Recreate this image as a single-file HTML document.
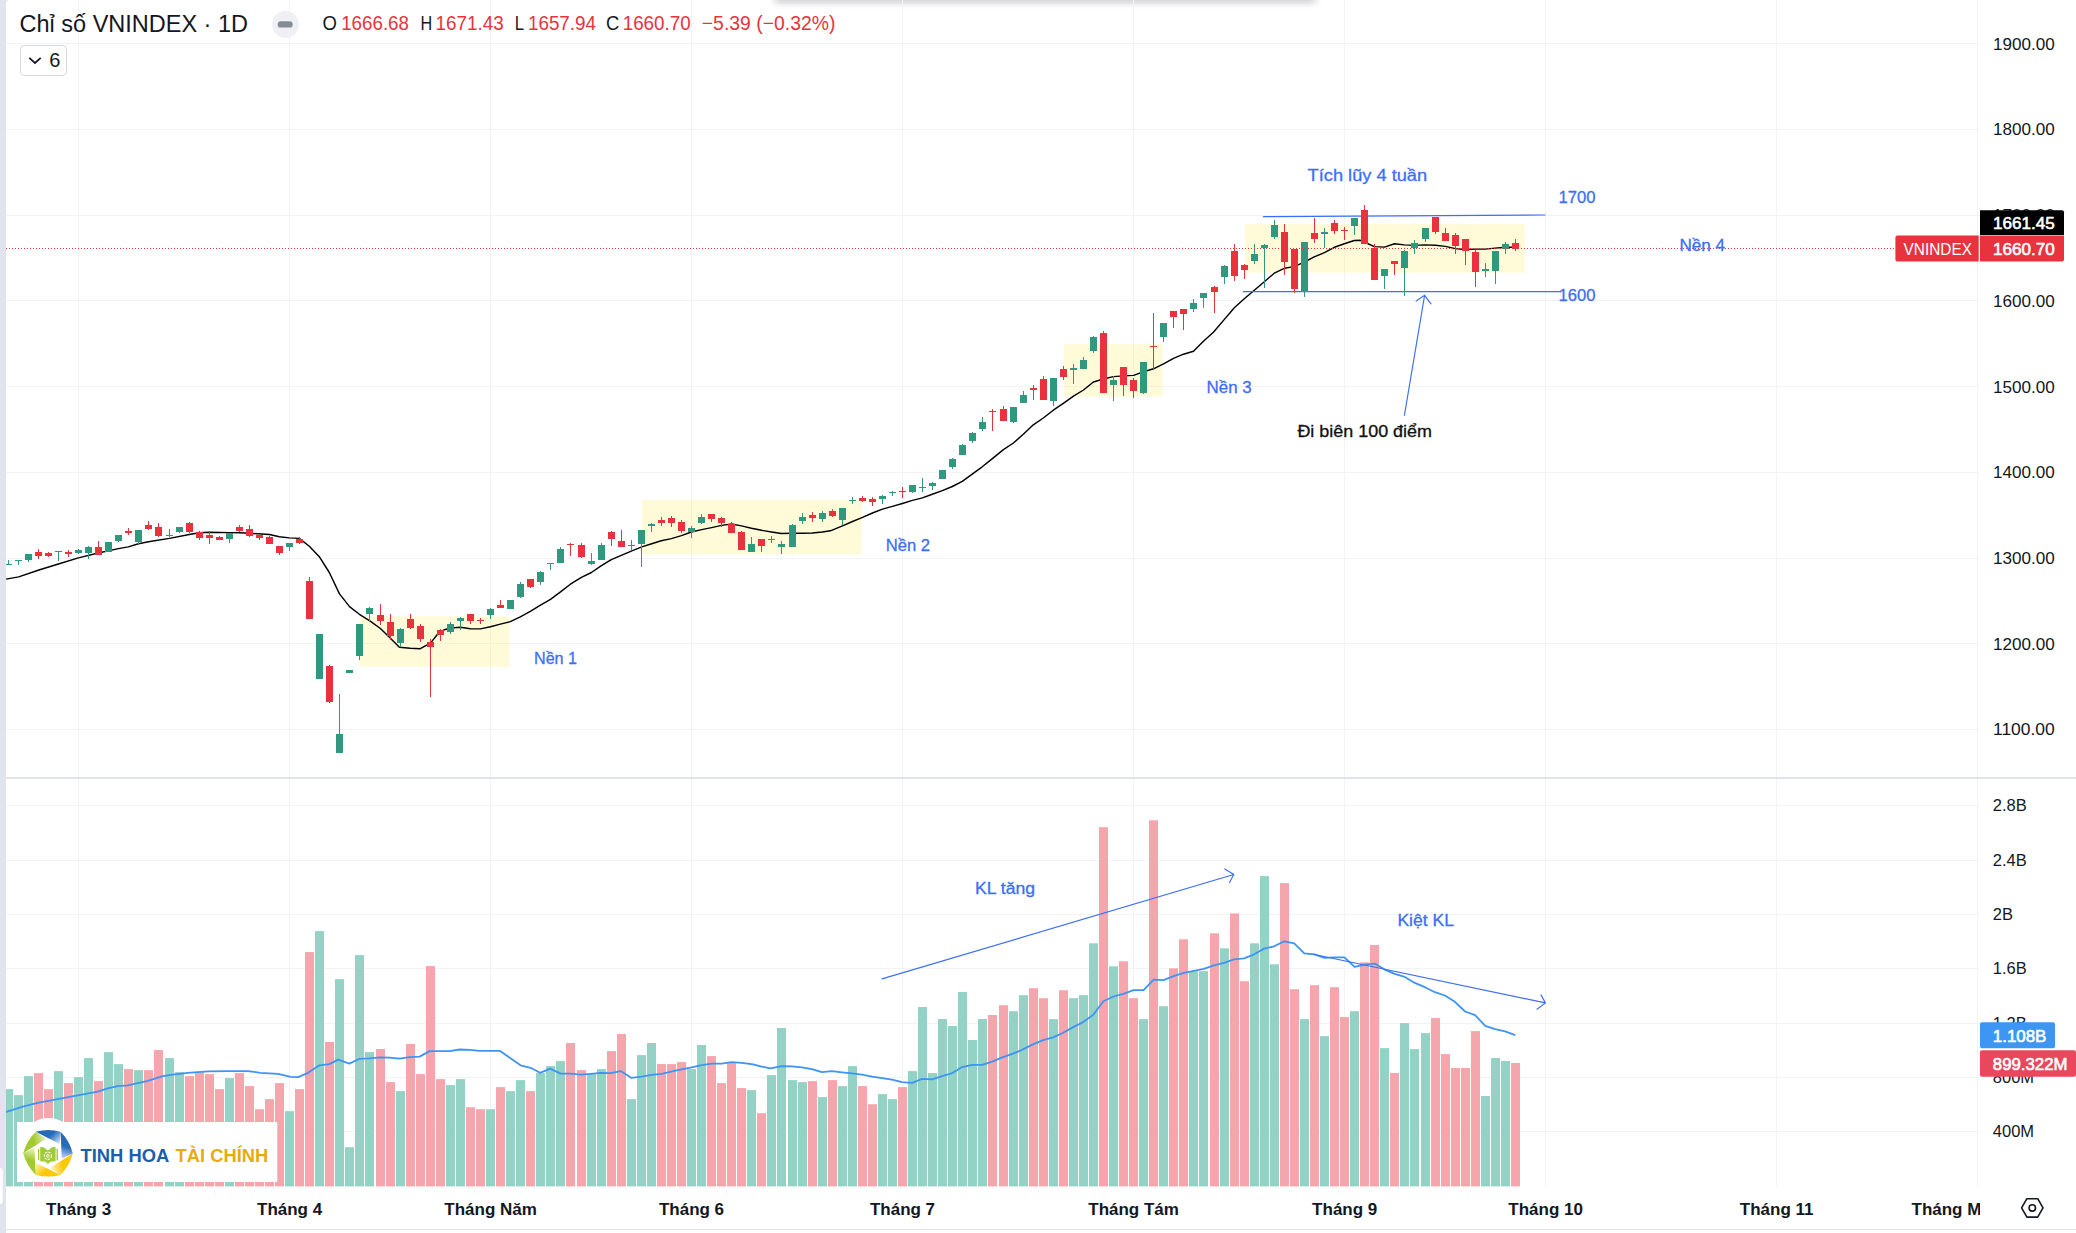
<!DOCTYPE html><html lang="vi"><head><meta charset="utf-8"><title>Chỉ số VNINDEX</title><style>html,body{margin:0;padding:0;background:#fff;overflow:hidden}svg{display:block}</style></head><body>
<svg width="2076" height="1233" viewBox="0 0 2076 1233" font-family='"Liberation Sans", Arial, sans-serif' shape-rendering="auto">
<rect width="2076" height="1233" fill="#fff"/>
<defs><filter id="shb" x="-5%" y="-200%" width="110%" height="500%"><feGaussianBlur stdDeviation="3.5"/></filter></defs>
<rect x="775" y="-9" width="540" height="11" fill="#1c2030" fill-opacity=".27" filter="url(#shb)"/>
<rect x="6" y="43" width="1974" height="1" fill="#F2F3F5"/>
<rect x="6" y="129" width="1974" height="1" fill="#F2F3F5"/>
<rect x="6" y="215" width="1974" height="1" fill="#F2F3F5"/>
<rect x="6" y="300" width="1974" height="1" fill="#F2F3F5"/>
<rect x="6" y="386" width="1974" height="1" fill="#F2F3F5"/>
<rect x="6" y="472" width="1974" height="1" fill="#F2F3F5"/>
<rect x="6" y="558" width="1974" height="1" fill="#F2F3F5"/>
<rect x="6" y="643" width="1974" height="1" fill="#F2F3F5"/>
<rect x="6" y="729" width="1974" height="1" fill="#F2F3F5"/>
<rect x="6" y="805" width="1974" height="1" fill="#F2F3F5"/>
<rect x="6" y="860" width="1974" height="1" fill="#F2F3F5"/>
<rect x="6" y="914" width="1974" height="1" fill="#F2F3F5"/>
<rect x="6" y="968" width="1974" height="1" fill="#F2F3F5"/>
<rect x="6" y="1023" width="1974" height="1" fill="#F2F3F5"/>
<rect x="6" y="1077" width="1974" height="1" fill="#F2F3F5"/>
<rect x="6" y="1131" width="1974" height="1" fill="#F2F3F5"/>
<rect x="78" y="0" width="1" height="1186" fill="#F2F3F5"/>
<rect x="289" y="0" width="1" height="1186" fill="#F2F3F5"/>
<rect x="490" y="0" width="1" height="1186" fill="#F2F3F5"/>
<rect x="691" y="0" width="1" height="1186" fill="#F2F3F5"/>
<rect x="902" y="0" width="1" height="1186" fill="#F2F3F5"/>
<rect x="1133" y="0" width="1" height="1186" fill="#F2F3F5"/>
<rect x="1344" y="0" width="1" height="1186" fill="#F2F3F5"/>
<rect x="1545" y="0" width="1" height="1186" fill="#F2F3F5"/>
<rect x="1776" y="0" width="1" height="1186" fill="#F2F3F5"/>
<rect x="1977" y="0" width="1" height="1186" fill="#F2F3F5"/>
<rect x="6" y="777" width="2070" height="2" fill="#E0E3EB"/>
<rect x="6" y="1229" width="2070" height="1" fill="#E0E3EB"/>
<rect x="360.0" y="616.3" width="149.6" height="50.4" fill="#FFEB3B" fill-opacity="0.2"/>
<rect x="642.0" y="500.0" width="219.7" height="54.4" fill="#FFEB3B" fill-opacity="0.2"/>
<rect x="1064.2" y="344.2" width="98.6" height="52.4" fill="#FFEB3B" fill-opacity="0.2"/>
<rect x="1245.0" y="224.1" width="279.9" height="48.6" fill="#FFEB3B" fill-opacity="0.2"/>
<rect x="4" y="1089.1" width="9" height="97.3" fill="#93D2C5"/>
<rect x="14" y="1095.1" width="9" height="91.3" fill="#93D2C5"/>
<rect x="24" y="1076.1" width="9" height="110.3" fill="#93D2C5"/>
<rect x="34" y="1073.1" width="9" height="113.3" fill="#F5A6AC"/>
<rect x="44" y="1089.1" width="9" height="97.3" fill="#F5A6AC"/>
<rect x="54" y="1071.1" width="9" height="115.3" fill="#93D2C5"/>
<rect x="64" y="1083.1" width="9" height="103.3" fill="#F5A6AC"/>
<rect x="74" y="1077.1" width="9" height="109.3" fill="#93D2C5"/>
<rect x="84" y="1058.1" width="9" height="128.3" fill="#93D2C5"/>
<rect x="94" y="1081.1" width="9" height="105.3" fill="#F5A6AC"/>
<rect x="104" y="1052.1" width="9" height="134.3" fill="#93D2C5"/>
<rect x="114" y="1064.1" width="9" height="122.3" fill="#93D2C5"/>
<rect x="124" y="1069.1" width="9" height="117.3" fill="#F5A6AC"/>
<rect x="134" y="1070.1" width="9" height="116.3" fill="#93D2C5"/>
<rect x="144" y="1070.1" width="9" height="116.3" fill="#F5A6AC"/>
<rect x="154" y="1050.1" width="9" height="136.3" fill="#F5A6AC"/>
<rect x="165" y="1058.1" width="9" height="128.3" fill="#93D2C5"/>
<rect x="175" y="1072.1" width="9" height="114.3" fill="#93D2C5"/>
<rect x="185" y="1076.1" width="9" height="110.3" fill="#F5A6AC"/>
<rect x="195" y="1072.1" width="9" height="114.3" fill="#F5A6AC"/>
<rect x="205" y="1074.1" width="9" height="112.3" fill="#F5A6AC"/>
<rect x="215" y="1089.1" width="9" height="97.3" fill="#F5A6AC"/>
<rect x="225" y="1078.1" width="9" height="108.3" fill="#93D2C5"/>
<rect x="235" y="1073.1" width="9" height="113.3" fill="#F5A6AC"/>
<rect x="245" y="1086.1" width="9" height="100.3" fill="#F5A6AC"/>
<rect x="255" y="1109.2" width="9" height="77.2" fill="#F5A6AC"/>
<rect x="265" y="1099.1" width="9" height="87.3" fill="#F5A6AC"/>
<rect x="275" y="1083.1" width="9" height="103.3" fill="#F5A6AC"/>
<rect x="285" y="1111.2" width="9" height="75.2" fill="#93D2C5"/>
<rect x="295" y="1089.1" width="9" height="97.3" fill="#F5A6AC"/>
<rect x="305" y="952.1" width="9" height="234.3" fill="#F5A6AC"/>
<rect x="315" y="931.1" width="9" height="255.3" fill="#93D2C5"/>
<rect x="325" y="1042.0" width="9" height="144.4" fill="#F5A6AC"/>
<rect x="335" y="979.2" width="9" height="207.2" fill="#93D2C5"/>
<rect x="345" y="1147.2" width="9" height="39.2" fill="#93D2C5"/>
<rect x="355" y="955.1" width="9" height="231.3" fill="#93D2C5"/>
<rect x="365" y="1052.1" width="9" height="134.3" fill="#93D2C5"/>
<rect x="376" y="1049.0" width="9" height="137.4" fill="#F5A6AC"/>
<rect x="386" y="1082.1" width="9" height="104.3" fill="#F5A6AC"/>
<rect x="396" y="1091.1" width="9" height="95.3" fill="#93D2C5"/>
<rect x="406" y="1044.0" width="9" height="142.4" fill="#F5A6AC"/>
<rect x="416" y="1074.1" width="9" height="112.3" fill="#F5A6AC"/>
<rect x="426" y="966.1" width="9" height="220.3" fill="#F5A6AC"/>
<rect x="436" y="1079.1" width="9" height="107.3" fill="#F5A6AC"/>
<rect x="446" y="1085.1" width="9" height="101.3" fill="#93D2C5"/>
<rect x="456" y="1079.1" width="9" height="107.3" fill="#93D2C5"/>
<rect x="466" y="1107.2" width="9" height="79.2" fill="#F5A6AC"/>
<rect x="476" y="1109.2" width="9" height="77.2" fill="#F5A6AC"/>
<rect x="486" y="1109.2" width="9" height="77.2" fill="#93D2C5"/>
<rect x="496" y="1087.1" width="9" height="99.3" fill="#F5A6AC"/>
<rect x="506" y="1091.1" width="9" height="95.3" fill="#93D2C5"/>
<rect x="516" y="1080.1" width="9" height="106.3" fill="#93D2C5"/>
<rect x="526" y="1091.1" width="9" height="95.3" fill="#F5A6AC"/>
<rect x="536" y="1073.1" width="9" height="113.3" fill="#93D2C5"/>
<rect x="546" y="1066.1" width="9" height="120.3" fill="#93D2C5"/>
<rect x="556" y="1061.1" width="9" height="125.3" fill="#93D2C5"/>
<rect x="566" y="1043.0" width="9" height="143.4" fill="#F5A6AC"/>
<rect x="577" y="1070.1" width="9" height="116.3" fill="#F5A6AC"/>
<rect x="587" y="1074.1" width="9" height="112.3" fill="#93D2C5"/>
<rect x="597" y="1069.1" width="9" height="117.3" fill="#93D2C5"/>
<rect x="607" y="1051.1" width="9" height="135.3" fill="#F5A6AC"/>
<rect x="617" y="1034.0" width="9" height="152.4" fill="#F5A6AC"/>
<rect x="627" y="1099.1" width="9" height="87.3" fill="#93D2C5"/>
<rect x="637" y="1055.1" width="9" height="131.3" fill="#93D2C5"/>
<rect x="647" y="1043.0" width="9" height="143.4" fill="#93D2C5"/>
<rect x="657" y="1064.1" width="9" height="122.3" fill="#F5A6AC"/>
<rect x="667" y="1064.1" width="9" height="122.3" fill="#F5A6AC"/>
<rect x="677" y="1062.1" width="9" height="124.3" fill="#F5A6AC"/>
<rect x="687" y="1069.1" width="9" height="117.3" fill="#93D2C5"/>
<rect x="697" y="1045.0" width="9" height="141.4" fill="#93D2C5"/>
<rect x="707" y="1056.1" width="9" height="130.3" fill="#F5A6AC"/>
<rect x="717" y="1083.1" width="9" height="103.3" fill="#F5A6AC"/>
<rect x="727" y="1063.1" width="9" height="123.3" fill="#F5A6AC"/>
<rect x="737" y="1088.1" width="9" height="98.3" fill="#F5A6AC"/>
<rect x="747" y="1090.1" width="9" height="96.3" fill="#93D2C5"/>
<rect x="757" y="1113.2" width="9" height="73.2" fill="#F5A6AC"/>
<rect x="767" y="1075.1" width="9" height="111.3" fill="#93D2C5"/>
<rect x="777" y="1028.0" width="9" height="158.4" fill="#93D2C5"/>
<rect x="788" y="1080.1" width="9" height="106.3" fill="#93D2C5"/>
<rect x="798" y="1082.1" width="9" height="104.3" fill="#93D2C5"/>
<rect x="808" y="1081.1" width="9" height="105.3" fill="#F5A6AC"/>
<rect x="818" y="1097.1" width="9" height="89.3" fill="#93D2C5"/>
<rect x="828" y="1080.1" width="9" height="106.3" fill="#F5A6AC"/>
<rect x="838" y="1086.1" width="9" height="100.3" fill="#93D2C5"/>
<rect x="848" y="1066.1" width="9" height="120.3" fill="#93D2C5"/>
<rect x="858" y="1086.1" width="9" height="100.3" fill="#F5A6AC"/>
<rect x="868" y="1104.2" width="9" height="82.2" fill="#F5A6AC"/>
<rect x="878" y="1094.1" width="9" height="92.3" fill="#93D2C5"/>
<rect x="888" y="1099.1" width="9" height="87.3" fill="#93D2C5"/>
<rect x="898" y="1087.1" width="9" height="99.3" fill="#F5A6AC"/>
<rect x="908" y="1071.1" width="9" height="115.3" fill="#93D2C5"/>
<rect x="918" y="1007.0" width="9" height="179.4" fill="#93D2C5"/>
<rect x="928" y="1073.1" width="9" height="113.3" fill="#93D2C5"/>
<rect x="938" y="1019.0" width="9" height="167.4" fill="#93D2C5"/>
<rect x="948" y="1026.0" width="9" height="160.4" fill="#93D2C5"/>
<rect x="958" y="991.9" width="9" height="194.5" fill="#93D2C5"/>
<rect x="968" y="1040.0" width="9" height="146.4" fill="#93D2C5"/>
<rect x="978" y="1019.0" width="9" height="167.4" fill="#93D2C5"/>
<rect x="988" y="1015.0" width="9" height="171.4" fill="#F5A6AC"/>
<rect x="999" y="1005.2" width="9" height="181.2" fill="#F5A6AC"/>
<rect x="1009" y="1011.2" width="9" height="175.2" fill="#93D2C5"/>
<rect x="1019" y="995.2" width="9" height="191.2" fill="#93D2C5"/>
<rect x="1029" y="988.2" width="9" height="198.2" fill="#F5A6AC"/>
<rect x="1039" y="998.2" width="9" height="188.2" fill="#F5A6AC"/>
<rect x="1049" y="1019.1" width="9" height="167.3" fill="#93D2C5"/>
<rect x="1059" y="990.2" width="9" height="196.2" fill="#F5A6AC"/>
<rect x="1069" y="998.2" width="9" height="188.2" fill="#93D2C5"/>
<rect x="1079" y="995.2" width="9" height="191.2" fill="#93D2C5"/>
<rect x="1089" y="943.3" width="9" height="243.1" fill="#93D2C5"/>
<rect x="1099" y="827.2" width="9" height="359.2" fill="#F5A6AC"/>
<rect x="1109" y="966.3" width="9" height="220.1" fill="#93D2C5"/>
<rect x="1119" y="961.3" width="9" height="225.1" fill="#F5A6AC"/>
<rect x="1129" y="998.2" width="9" height="188.2" fill="#F5A6AC"/>
<rect x="1139" y="1019.1" width="9" height="167.3" fill="#93D2C5"/>
<rect x="1149" y="820.3" width="9" height="366.1" fill="#F5A6AC"/>
<rect x="1159" y="1006.2" width="9" height="180.2" fill="#93D2C5"/>
<rect x="1169" y="968.3" width="9" height="218.1" fill="#F5A6AC"/>
<rect x="1179" y="939.3" width="9" height="247.1" fill="#F5A6AC"/>
<rect x="1189" y="971.2" width="9" height="215.2" fill="#93D2C5"/>
<rect x="1199" y="971.2" width="9" height="215.2" fill="#93D2C5"/>
<rect x="1210" y="933.3" width="9" height="253.1" fill="#F5A6AC"/>
<rect x="1220" y="948.3" width="9" height="238.1" fill="#93D2C5"/>
<rect x="1230" y="913.4" width="9" height="273.0" fill="#F5A6AC"/>
<rect x="1240" y="981.2" width="9" height="205.2" fill="#F5A6AC"/>
<rect x="1250" y="943.3" width="9" height="243.1" fill="#93D2C5"/>
<rect x="1260" y="876.1" width="9" height="310.3" fill="#93D2C5"/>
<rect x="1270" y="964.3" width="9" height="222.1" fill="#93D2C5"/>
<rect x="1280" y="883.1" width="9" height="303.3" fill="#F5A6AC"/>
<rect x="1290" y="989.2" width="9" height="197.2" fill="#F5A6AC"/>
<rect x="1300" y="1019.1" width="9" height="167.3" fill="#93D2C5"/>
<rect x="1310" y="985.2" width="9" height="201.2" fill="#F5A6AC"/>
<rect x="1320" y="1036.1" width="9" height="150.3" fill="#93D2C5"/>
<rect x="1330" y="987.2" width="9" height="199.2" fill="#F5A6AC"/>
<rect x="1340" y="1017.1" width="9" height="169.3" fill="#F5A6AC"/>
<rect x="1350" y="1011.2" width="9" height="175.2" fill="#93D2C5"/>
<rect x="1360" y="962.3" width="9" height="224.1" fill="#F5A6AC"/>
<rect x="1370" y="945.0" width="9" height="241.4" fill="#F5A6AC"/>
<rect x="1380" y="1048.1" width="9" height="138.3" fill="#93D2C5"/>
<rect x="1390" y="1073.0" width="9" height="113.4" fill="#F5A6AC"/>
<rect x="1400" y="1023.1" width="9" height="163.3" fill="#93D2C5"/>
<rect x="1410" y="1049.1" width="9" height="137.3" fill="#93D2C5"/>
<rect x="1421" y="1033.1" width="9" height="153.3" fill="#93D2C5"/>
<rect x="1431" y="1018.1" width="9" height="168.3" fill="#F5A6AC"/>
<rect x="1441" y="1054.1" width="9" height="132.3" fill="#F5A6AC"/>
<rect x="1451" y="1068.0" width="9" height="118.4" fill="#F5A6AC"/>
<rect x="1461" y="1068.0" width="9" height="118.4" fill="#F5A6AC"/>
<rect x="1471" y="1031.1" width="9" height="155.3" fill="#F5A6AC"/>
<rect x="1481" y="1096.0" width="9" height="90.4" fill="#93D2C5"/>
<rect x="1491" y="1058.0" width="9" height="128.4" fill="#93D2C5"/>
<rect x="1501" y="1061.0" width="9" height="125.4" fill="#93D2C5"/>
<rect x="1511" y="1063.0" width="9" height="123.4" fill="#F5A6AC"/>
<polyline fill="none" stroke="#3D94F5" stroke-width="1.8" stroke-linejoin="round" points="5.5,1112.2 22.8,1106.7 37.6,1102.9 57.6,1099.1 77.7,1095.4 97.7,1091.6 107.7,1088.4 117.7,1086.1 127.8,1085.4 147.8,1080.9 162.8,1076.1 172.8,1074.6 187.9,1072.8 207.9,1071.3 228.0,1071.1 248.0,1071.1 260.5,1072.8 278.1,1073.8 290.6,1076.9 298.1,1077.1 308.1,1072.8 319.4,1065.3 329.4,1064.1 338.2,1059.6 349.4,1063.6 359.5,1058.8 369.5,1058.3 379.5,1057.3 389.5,1057.6 399.5,1058.6 409.6,1057.1 419.6,1056.6 429.6,1051.1 449.6,1051.1 459.7,1049.5 469.7,1049.8 479.7,1050.8 499.7,1050.8 510.5,1058.3 520.5,1065.3 530.6,1067.8 540.1,1072.8 550.1,1068.6 560.6,1073.6 570.6,1073.6 580.7,1074.6 590.7,1073.8 600.7,1072.8 610.7,1073.1 620.7,1071.1 631.5,1077.9 641.5,1076.6 651.6,1074.8 661.6,1073.8 676.6,1070.3 691.6,1067.3 701.7,1065.1 711.7,1063.6 721.7,1063.6 731.7,1062.1 741.7,1062.8 751.8,1064.1 761.8,1066.6 770.5,1068.3 781.8,1066.1 791.8,1066.3 801.9,1067.3 811.9,1069.1 821.9,1072.1 831.9,1071.1 841.9,1072.3 852.0,1073.3 862.0,1074.6 872.0,1076.6 882.0,1078.1 892.0,1079.6 902.1,1082.1 912.1,1082.9 922.1,1078.9 932.1,1079.4 942.1,1076.1 952.2,1073.1 962.2,1067.1 972.2,1064.8 982.2,1064.8 992.2,1061.6 1002.3,1057.3 1013.0,1053.7 1022.9,1049.4 1032.9,1044.4 1043.1,1040.1 1053.1,1037.4 1063.2,1032.8 1073.2,1027.1 1083.1,1022.1 1093.3,1014.8 1103.4,1001.2 1113.4,996.5 1123.4,993.9 1133.5,990.2 1143.6,990.2 1153.6,979.6 1163.6,980.2 1173.6,976.2 1183.8,972.9 1193.8,970.9 1203.9,968.9 1213.8,965.3 1224.0,962.9 1234.0,959.3 1244.1,958.3 1254.1,954.3 1264.1,948.6 1274.2,946.3 1284.2,941.3 1294.2,943.3 1304.3,953.3 1314.4,954.3 1324.4,957.9 1334.4,957.3 1344.5,957.3 1354.5,966.9 1364.6,964.6 1374.7,963.6 1384.7,969.6 1394.7,973.9 1404.8,976.9 1414.8,982.9 1424.9,987.2 1434.9,992.2 1444.9,995.5 1454.9,1001.8 1465.1,1011.5 1475.1,1015.1 1485.2,1025.8 1495.1,1029.1 1505.1,1031.4 1515.3,1035.1"/>
<polyline fill="none" stroke="#000" stroke-width="1.45" stroke-linejoin="round" points="6.1,579.1 18.7,576.9 38.9,570.0 58.4,564.0 78.4,557.9 98.3,553.0 118.5,548.6 128.3,546.9 138.5,543.8 148.5,541.8 169.4,538.4 189.3,534.5 199.3,532.8 209.5,532.3 229.5,532.6 239.5,532.8 249.5,533.3 269.4,534.5 279.4,536.7 289.4,537.9 299.3,538.4 309.3,546.2 319.3,556.7 329.3,572.5 339.5,593.9 349.5,606.6 359.4,614.3 370.2,621.2 380.4,628.5 390.4,638.2 399.4,647.2 410.3,648.2 420.3,648.7 430.5,643.1 438.3,633.3 444.4,629.7 450.5,628.0 460.4,627.2 470.4,628.7 480.4,628.9 490.4,626.8 500.4,624.1 510.3,621.6 520.3,616.8 530.3,611.4 540.5,605.1 550.5,599.3 560.5,591.9 570.4,584.2 581.4,577.3 591.4,572.5 601.4,565.7 611.3,559.6 621.3,555.4 631.3,551.1 641.8,546.9 651.7,543.8 661.2,540.8 671.4,538.6 681.4,535.6 691.4,532.0 701.6,529.6 711.6,527.6 721.6,525.4 731.6,524.0 741.5,525.9 751.5,528.3 761.5,530.3 771.5,532.0 781.4,533.5 792.4,533.2 802.4,533.2 812.3,533.0 822.3,532.0 830.4,530.8 842.5,525.9 852.5,521.5 862.5,517.4 872.5,513.0 882.4,509.1 892.4,506.4 902.4,503.5 912.4,500.4 922.4,497.9 932.3,494.3 942.3,490.6 952.3,486.5 962.3,481.4 972.2,474.1 982.2,466.8 992.7,458.4 1003.4,449.6 1013.4,443.0 1023.3,434.3 1033.3,424.8 1043.3,418.0 1053.3,410.2 1063.3,403.4 1073.5,396.1 1083.5,390.0 1093.4,382.0 1103.4,379.0 1113.4,376.6 1123.4,375.9 1133.6,375.4 1143.6,371.7 1153.5,368.8 1163.5,363.9 1173.5,358.3 1183.5,354.2 1193.5,351.3 1203.4,341.3 1213.4,332.3 1224.4,319.4 1234.3,307.7 1244.3,298.7 1254.3,290.2 1264.3,281.7 1274.3,273.2 1284.2,268.3 1294.2,266.6 1304.2,262.2 1314.2,256.9 1324.4,252.7 1334.4,247.3 1344.3,243.7 1354.3,240.5 1360.2,240.3 1364.3,242.0 1374.3,246.6 1384.5,247.1 1394.5,243.7 1404.4,244.9 1414.4,245.4 1424.4,244.9 1435.4,245.2 1445.3,246.4 1455.3,248.6 1465.3,249.5 1475.3,249.1 1485.2,249.1 1495.2,248.1 1505.4,247.3 1515.4,247.3"/>
<g stroke="#3D6EF7" stroke-width="1.25" fill="none" stroke-linecap="round">
<line x1="1263.5" y1="216.7" x2="1545" y2="215"/>
<line x1="1243.3" y1="291.7" x2="1560" y2="291.7"/>
<path stroke-width="1.15" d="M1404.4 415.3L1424.6 295.3M1416.1 300.9L1424.6 295.3L1431 303.8"/>
<path stroke-width="1.15" d="M882 978.9L1233.8 874.5M1224.8 869.1L1233.8 874.5L1229.5 882.4"/>
<path stroke-width="1.15" d="M1313.2 954.3L1545.4 1002.9M1541 994.9L1545.4 1002.9L1537 1009.2"/>
</g>
<rect x="8" y="560" width="1" height="5" fill="#30987E"/>
<rect x="5" y="564" width="7" height="1" fill="#30987E"/>
<rect x="18" y="560" width="1" height="5" fill="#30987E"/>
<rect x="15" y="560" width="7" height="1" fill="#30987E"/>
<rect x="28" y="554" width="1" height="8" fill="#30987E"/>
<rect x="25" y="554" width="7" height="6" fill="#30987E"/>
<rect x="38" y="549" width="1" height="10" fill="#E8333F"/>
<rect x="35" y="552" width="7" height="4" fill="#E8333F"/>
<rect x="48" y="552" width="1" height="5" fill="#E8333F"/>
<rect x="45" y="553" width="7" height="3" fill="#E8333F"/>
<rect x="58" y="551" width="1" height="10" fill="#30987E"/>
<rect x="55" y="551" width="7" height="1" fill="#30987E"/>
<rect x="68" y="550" width="1" height="7" fill="#E8333F"/>
<rect x="65" y="552" width="7" height="2" fill="#E8333F"/>
<rect x="78" y="549" width="1" height="5" fill="#30987E"/>
<rect x="75" y="550" width="7" height="3" fill="#30987E"/>
<rect x="88" y="546" width="1" height="13" fill="#30987E"/>
<rect x="85" y="547" width="7" height="6" fill="#30987E"/>
<rect x="98" y="541" width="1" height="14" fill="#E8333F"/>
<rect x="95" y="547" width="7" height="8" fill="#E8333F"/>
<rect x="108" y="542" width="1" height="10" fill="#30987E"/>
<rect x="105" y="542" width="7" height="10" fill="#30987E"/>
<rect x="118" y="535" width="1" height="7" fill="#30987E"/>
<rect x="115" y="535" width="7" height="6" fill="#30987E"/>
<rect x="128" y="528" width="1" height="7" fill="#E8333F"/>
<rect x="125" y="531" width="7" height="2" fill="#E8333F"/>
<rect x="138" y="530" width="1" height="14" fill="#30987E"/>
<rect x="135" y="530" width="7" height="12" fill="#30987E"/>
<rect x="148" y="521" width="1" height="9" fill="#E8333F"/>
<rect x="145" y="525" width="7" height="4" fill="#E8333F"/>
<rect x="158" y="523" width="1" height="14" fill="#E8333F"/>
<rect x="155" y="527" width="7" height="9" fill="#E8333F"/>
<rect x="169" y="529" width="1" height="8" fill="#30987E"/>
<rect x="166" y="535" width="7" height="1" fill="#30987E"/>
<rect x="179" y="527" width="1" height="6" fill="#30987E"/>
<rect x="176" y="527" width="7" height="5" fill="#30987E"/>
<rect x="189" y="522" width="1" height="11" fill="#E8333F"/>
<rect x="186" y="523" width="7" height="9" fill="#E8333F"/>
<rect x="199" y="531" width="1" height="9" fill="#E8333F"/>
<rect x="196" y="532" width="7" height="6" fill="#E8333F"/>
<rect x="209" y="531" width="1" height="13" fill="#E8333F"/>
<rect x="206" y="535" width="7" height="3" fill="#E8333F"/>
<rect x="219" y="536" width="1" height="4" fill="#E8333F"/>
<rect x="216" y="537" width="7" height="3" fill="#E8333F"/>
<rect x="229" y="533" width="1" height="10" fill="#30987E"/>
<rect x="226" y="533" width="7" height="6" fill="#30987E"/>
<rect x="239" y="525" width="1" height="7" fill="#E8333F"/>
<rect x="236" y="527" width="7" height="4" fill="#E8333F"/>
<rect x="249" y="525" width="1" height="12" fill="#E8333F"/>
<rect x="246" y="529" width="7" height="7" fill="#E8333F"/>
<rect x="259" y="534" width="1" height="6" fill="#E8333F"/>
<rect x="256" y="535" width="7" height="3" fill="#E8333F"/>
<rect x="269" y="536" width="1" height="8" fill="#E8333F"/>
<rect x="266" y="537" width="7" height="7" fill="#E8333F"/>
<rect x="279" y="546" width="1" height="9" fill="#E8333F"/>
<rect x="276" y="546" width="7" height="7" fill="#E8333F"/>
<rect x="289" y="543" width="1" height="8" fill="#30987E"/>
<rect x="286" y="543" width="7" height="4" fill="#30987E"/>
<rect x="299" y="537" width="1" height="7" fill="#E8333F"/>
<rect x="296" y="539" width="7" height="4" fill="#E8333F"/>
<rect x="309" y="577" width="1" height="42" fill="#E8333F"/>
<rect x="306" y="581" width="7" height="38" fill="#E8333F"/>
<rect x="319" y="634" width="1" height="45" fill="#30987E"/>
<rect x="316" y="634" width="7" height="45" fill="#30987E"/>
<rect x="329" y="665" width="1" height="38" fill="#E8333F"/>
<rect x="326" y="666" width="7" height="36" fill="#E8333F"/>
<rect x="339" y="694" width="1" height="59" fill="#30987E"/>
<rect x="336" y="734" width="7" height="19" fill="#30987E"/>
<rect x="349" y="670" width="1" height="3" fill="#30987E"/>
<rect x="346" y="670" width="7" height="3" fill="#30987E"/>
<rect x="359" y="624" width="1" height="36" fill="#30987E"/>
<rect x="356" y="624" width="7" height="32" fill="#30987E"/>
<rect x="369" y="607" width="1" height="14" fill="#30987E"/>
<rect x="366" y="608" width="7" height="6" fill="#30987E"/>
<rect x="380" y="604" width="1" height="21" fill="#E8333F"/>
<rect x="377" y="615" width="7" height="6" fill="#E8333F"/>
<rect x="390" y="614" width="1" height="26" fill="#E8333F"/>
<rect x="387" y="622" width="7" height="14" fill="#E8333F"/>
<rect x="400" y="628" width="1" height="19" fill="#30987E"/>
<rect x="397" y="629" width="7" height="14" fill="#30987E"/>
<rect x="410" y="614" width="1" height="15" fill="#E8333F"/>
<rect x="407" y="619" width="7" height="9" fill="#E8333F"/>
<rect x="420" y="624" width="1" height="18" fill="#E8333F"/>
<rect x="417" y="626" width="7" height="13" fill="#E8333F"/>
<rect x="430" y="639" width="1" height="58" fill="#E8333F"/>
<rect x="427" y="642" width="7" height="5" fill="#E8333F"/>
<rect x="440" y="629" width="1" height="12" fill="#E8333F"/>
<rect x="437" y="630" width="7" height="5" fill="#E8333F"/>
<rect x="450" y="622" width="1" height="12" fill="#30987E"/>
<rect x="447" y="624" width="7" height="8" fill="#30987E"/>
<rect x="460" y="617" width="1" height="13" fill="#30987E"/>
<rect x="457" y="618" width="7" height="3" fill="#30987E"/>
<rect x="470" y="614" width="1" height="10" fill="#E8333F"/>
<rect x="467" y="614" width="7" height="7" fill="#E8333F"/>
<rect x="480" y="618" width="1" height="6" fill="#E8333F"/>
<rect x="477" y="620" width="7" height="1" fill="#E8333F"/>
<rect x="490" y="608" width="1" height="11" fill="#30987E"/>
<rect x="487" y="609" width="7" height="6" fill="#30987E"/>
<rect x="500" y="600" width="1" height="8" fill="#E8333F"/>
<rect x="497" y="605" width="7" height="3" fill="#E8333F"/>
<rect x="510" y="600" width="1" height="9" fill="#30987E"/>
<rect x="507" y="600" width="7" height="9" fill="#30987E"/>
<rect x="520" y="582" width="1" height="16" fill="#30987E"/>
<rect x="517" y="584" width="7" height="13" fill="#30987E"/>
<rect x="530" y="579" width="1" height="9" fill="#E8333F"/>
<rect x="527" y="579" width="7" height="8" fill="#E8333F"/>
<rect x="540" y="571" width="1" height="14" fill="#30987E"/>
<rect x="537" y="572" width="7" height="10" fill="#30987E"/>
<rect x="550" y="563" width="1" height="7" fill="#30987E"/>
<rect x="547" y="563" width="7" height="1" fill="#30987E"/>
<rect x="560" y="547" width="1" height="16" fill="#30987E"/>
<rect x="557" y="549" width="7" height="14" fill="#30987E"/>
<rect x="570" y="543" width="1" height="13" fill="#E8333F"/>
<rect x="567" y="544" width="7" height="1" fill="#E8333F"/>
<rect x="581" y="543" width="1" height="15" fill="#E8333F"/>
<rect x="578" y="545" width="7" height="12" fill="#E8333F"/>
<rect x="591" y="553" width="1" height="12" fill="#30987E"/>
<rect x="588" y="561" width="7" height="3" fill="#30987E"/>
<rect x="601" y="543" width="1" height="17" fill="#30987E"/>
<rect x="598" y="545" width="7" height="15" fill="#30987E"/>
<rect x="611" y="531" width="1" height="15" fill="#E8333F"/>
<rect x="608" y="532" width="7" height="7" fill="#E8333F"/>
<rect x="621" y="530" width="1" height="17" fill="#E8333F"/>
<rect x="618" y="541" width="7" height="6" fill="#E8333F"/>
<rect x="631" y="540" width="1" height="10" fill="#30987E"/>
<rect x="628" y="545" width="7" height="1" fill="#30987E"/>
<rect x="641" y="530" width="1" height="37" fill="#30987E"/>
<rect x="638" y="530" width="7" height="14" fill="#30987E"/>
<rect x="651" y="523" width="1" height="9" fill="#30987E"/>
<rect x="648" y="524" width="7" height="2" fill="#30987E"/>
<rect x="661" y="517" width="1" height="9" fill="#E8333F"/>
<rect x="658" y="520" width="7" height="3" fill="#E8333F"/>
<rect x="671" y="516" width="1" height="11" fill="#E8333F"/>
<rect x="668" y="518" width="7" height="5" fill="#E8333F"/>
<rect x="681" y="520" width="1" height="13" fill="#E8333F"/>
<rect x="678" y="522" width="7" height="9" fill="#E8333F"/>
<rect x="691" y="526" width="1" height="12" fill="#30987E"/>
<rect x="688" y="528" width="7" height="4" fill="#30987E"/>
<rect x="701" y="514" width="1" height="10" fill="#30987E"/>
<rect x="698" y="517" width="7" height="6" fill="#30987E"/>
<rect x="711" y="514" width="1" height="8" fill="#E8333F"/>
<rect x="708" y="514" width="7" height="5" fill="#E8333F"/>
<rect x="721" y="517" width="1" height="10" fill="#E8333F"/>
<rect x="718" y="518" width="7" height="5" fill="#E8333F"/>
<rect x="731" y="522" width="1" height="11" fill="#E8333F"/>
<rect x="728" y="524" width="7" height="9" fill="#E8333F"/>
<rect x="741" y="531" width="1" height="19" fill="#E8333F"/>
<rect x="738" y="532" width="7" height="18" fill="#E8333F"/>
<rect x="751" y="537" width="1" height="15" fill="#30987E"/>
<rect x="748" y="544" width="7" height="8" fill="#30987E"/>
<rect x="761" y="539" width="1" height="13" fill="#E8333F"/>
<rect x="758" y="539" width="7" height="7" fill="#E8333F"/>
<rect x="771" y="536" width="1" height="7" fill="#30987E"/>
<rect x="768" y="539" width="7" height="1" fill="#30987E"/>
<rect x="781" y="541" width="1" height="13" fill="#30987E"/>
<rect x="778" y="544" width="7" height="3" fill="#30987E"/>
<rect x="792" y="524" width="1" height="23" fill="#30987E"/>
<rect x="789" y="525" width="7" height="22" fill="#30987E"/>
<rect x="802" y="513" width="1" height="11" fill="#30987E"/>
<rect x="799" y="517" width="7" height="4" fill="#30987E"/>
<rect x="812" y="512" width="1" height="10" fill="#E8333F"/>
<rect x="809" y="515" width="7" height="3" fill="#E8333F"/>
<rect x="822" y="511" width="1" height="11" fill="#30987E"/>
<rect x="819" y="513" width="7" height="6" fill="#30987E"/>
<rect x="832" y="509" width="1" height="8" fill="#E8333F"/>
<rect x="829" y="511" width="7" height="5" fill="#E8333F"/>
<rect x="842" y="508" width="1" height="17" fill="#30987E"/>
<rect x="839" y="508" width="7" height="12" fill="#30987E"/>
<rect x="852" y="497" width="1" height="7" fill="#30987E"/>
<rect x="849" y="500" width="7" height="1" fill="#30987E"/>
<rect x="862" y="496" width="1" height="6" fill="#E8333F"/>
<rect x="859" y="498" width="7" height="3" fill="#E8333F"/>
<rect x="872" y="497" width="1" height="9" fill="#E8333F"/>
<rect x="869" y="499" width="7" height="3" fill="#E8333F"/>
<rect x="882" y="495" width="1" height="9" fill="#30987E"/>
<rect x="879" y="496" width="7" height="3" fill="#30987E"/>
<rect x="892" y="491" width="1" height="5" fill="#30987E"/>
<rect x="889" y="492" width="7" height="1" fill="#30987E"/>
<rect x="902" y="487" width="1" height="11" fill="#E8333F"/>
<rect x="899" y="491" width="7" height="1" fill="#E8333F"/>
<rect x="912" y="485" width="1" height="8" fill="#30987E"/>
<rect x="909" y="485" width="7" height="7" fill="#30987E"/>
<rect x="922" y="478" width="1" height="14" fill="#30987E"/>
<rect x="919" y="487" width="7" height="1" fill="#30987E"/>
<rect x="932" y="482" width="1" height="8" fill="#30987E"/>
<rect x="929" y="483" width="7" height="3" fill="#30987E"/>
<rect x="942" y="470" width="1" height="9" fill="#30987E"/>
<rect x="939" y="470" width="7" height="9" fill="#30987E"/>
<rect x="952" y="458" width="1" height="11" fill="#30987E"/>
<rect x="949" y="459" width="7" height="8" fill="#30987E"/>
<rect x="962" y="444" width="1" height="11" fill="#30987E"/>
<rect x="959" y="445" width="7" height="10" fill="#30987E"/>
<rect x="972" y="432" width="1" height="11" fill="#30987E"/>
<rect x="969" y="433" width="7" height="8" fill="#30987E"/>
<rect x="982" y="417" width="1" height="14" fill="#30987E"/>
<rect x="979" y="422" width="7" height="7" fill="#30987E"/>
<rect x="992" y="409" width="1" height="22" fill="#E8333F"/>
<rect x="989" y="411" width="7" height="1" fill="#E8333F"/>
<rect x="1003" y="406" width="1" height="15" fill="#E8333F"/>
<rect x="1000" y="409" width="7" height="12" fill="#E8333F"/>
<rect x="1013" y="407" width="1" height="16" fill="#30987E"/>
<rect x="1010" y="407" width="7" height="15" fill="#30987E"/>
<rect x="1023" y="391" width="1" height="12" fill="#30987E"/>
<rect x="1020" y="395" width="7" height="8" fill="#30987E"/>
<rect x="1033" y="385" width="1" height="15" fill="#E8333F"/>
<rect x="1030" y="388" width="7" height="2" fill="#E8333F"/>
<rect x="1043" y="376" width="1" height="24" fill="#E8333F"/>
<rect x="1040" y="379" width="7" height="21" fill="#E8333F"/>
<rect x="1053" y="378" width="1" height="28" fill="#30987E"/>
<rect x="1050" y="378" width="7" height="23" fill="#30987E"/>
<rect x="1063" y="366" width="1" height="14" fill="#E8333F"/>
<rect x="1060" y="369" width="7" height="8" fill="#E8333F"/>
<rect x="1073" y="364" width="1" height="20" fill="#30987E"/>
<rect x="1070" y="368" width="7" height="2" fill="#30987E"/>
<rect x="1083" y="357" width="1" height="12" fill="#30987E"/>
<rect x="1080" y="360" width="7" height="9" fill="#30987E"/>
<rect x="1093" y="336" width="1" height="17" fill="#30987E"/>
<rect x="1090" y="337" width="7" height="14" fill="#30987E"/>
<rect x="1103" y="331" width="1" height="62" fill="#E8333F"/>
<rect x="1100" y="333" width="7" height="60" fill="#E8333F"/>
<rect x="1113" y="376" width="1" height="25" fill="#30987E"/>
<rect x="1110" y="380" width="7" height="5" fill="#30987E"/>
<rect x="1123" y="367" width="1" height="29" fill="#E8333F"/>
<rect x="1120" y="367" width="7" height="18" fill="#E8333F"/>
<rect x="1133" y="378" width="1" height="20" fill="#E8333F"/>
<rect x="1130" y="380" width="7" height="11" fill="#E8333F"/>
<rect x="1143" y="362" width="1" height="32" fill="#30987E"/>
<rect x="1140" y="362" width="7" height="31" fill="#30987E"/>
<rect x="1153" y="313" width="1" height="57" fill="#E8333F"/>
<rect x="1150" y="346" width="7" height="1" fill="#E8333F"/>
<rect x="1163" y="323" width="1" height="19" fill="#30987E"/>
<rect x="1160" y="323" width="7" height="14" fill="#30987E"/>
<rect x="1173" y="311" width="1" height="17" fill="#E8333F"/>
<rect x="1170" y="311" width="7" height="6" fill="#E8333F"/>
<rect x="1183" y="309" width="1" height="21" fill="#E8333F"/>
<rect x="1180" y="309" width="7" height="5" fill="#E8333F"/>
<rect x="1193" y="299" width="1" height="13" fill="#30987E"/>
<rect x="1190" y="303" width="7" height="6" fill="#30987E"/>
<rect x="1203" y="293" width="1" height="15" fill="#30987E"/>
<rect x="1200" y="293" width="7" height="5" fill="#30987E"/>
<rect x="1214" y="286" width="1" height="27" fill="#E8333F"/>
<rect x="1211" y="287" width="7" height="5" fill="#E8333F"/>
<rect x="1224" y="265" width="1" height="19" fill="#30987E"/>
<rect x="1221" y="266" width="7" height="11" fill="#30987E"/>
<rect x="1234" y="244" width="1" height="37" fill="#E8333F"/>
<rect x="1231" y="251" width="7" height="25" fill="#E8333F"/>
<rect x="1244" y="264" width="1" height="15" fill="#E8333F"/>
<rect x="1241" y="265" width="7" height="5" fill="#E8333F"/>
<rect x="1254" y="244" width="1" height="20" fill="#30987E"/>
<rect x="1251" y="254" width="7" height="7" fill="#30987E"/>
<rect x="1264" y="244" width="1" height="44" fill="#30987E"/>
<rect x="1261" y="245" width="7" height="3" fill="#30987E"/>
<rect x="1274" y="220" width="1" height="19" fill="#30987E"/>
<rect x="1271" y="225" width="7" height="12" fill="#30987E"/>
<rect x="1284" y="224" width="1" height="51" fill="#E8333F"/>
<rect x="1281" y="232" width="7" height="30" fill="#E8333F"/>
<rect x="1294" y="249" width="1" height="44" fill="#E8333F"/>
<rect x="1291" y="249" width="7" height="40" fill="#E8333F"/>
<rect x="1304" y="242" width="1" height="55" fill="#30987E"/>
<rect x="1301" y="242" width="7" height="50" fill="#30987E"/>
<rect x="1314" y="218" width="1" height="25" fill="#E8333F"/>
<rect x="1311" y="233" width="7" height="6" fill="#E8333F"/>
<rect x="1324" y="228" width="1" height="20" fill="#30987E"/>
<rect x="1321" y="232" width="7" height="2" fill="#30987E"/>
<rect x="1334" y="220" width="1" height="14" fill="#E8333F"/>
<rect x="1331" y="223" width="7" height="8" fill="#E8333F"/>
<rect x="1344" y="227" width="1" height="13" fill="#E8333F"/>
<rect x="1341" y="230" width="7" height="1" fill="#E8333F"/>
<rect x="1354" y="218" width="1" height="17" fill="#30987E"/>
<rect x="1351" y="218" width="7" height="8" fill="#30987E"/>
<rect x="1364" y="205" width="1" height="39" fill="#E8333F"/>
<rect x="1361" y="210" width="7" height="34" fill="#E8333F"/>
<rect x="1374" y="244" width="1" height="36" fill="#E8333F"/>
<rect x="1371" y="248" width="7" height="32" fill="#E8333F"/>
<rect x="1384" y="269" width="1" height="20" fill="#30987E"/>
<rect x="1381" y="269" width="7" height="7" fill="#30987E"/>
<rect x="1394" y="261" width="1" height="14" fill="#E8333F"/>
<rect x="1391" y="261" width="7" height="3" fill="#E8333F"/>
<rect x="1404" y="250" width="1" height="46" fill="#30987E"/>
<rect x="1401" y="251" width="7" height="17" fill="#30987E"/>
<rect x="1414" y="240" width="1" height="14" fill="#30987E"/>
<rect x="1411" y="243" width="7" height="5" fill="#30987E"/>
<rect x="1425" y="228" width="1" height="14" fill="#30987E"/>
<rect x="1422" y="228" width="7" height="11" fill="#30987E"/>
<rect x="1435" y="217" width="1" height="17" fill="#E8333F"/>
<rect x="1432" y="217" width="7" height="15" fill="#E8333F"/>
<rect x="1445" y="228" width="1" height="13" fill="#E8333F"/>
<rect x="1442" y="233" width="7" height="8" fill="#E8333F"/>
<rect x="1455" y="233" width="1" height="21" fill="#E8333F"/>
<rect x="1452" y="235" width="7" height="11" fill="#E8333F"/>
<rect x="1465" y="239" width="1" height="26" fill="#E8333F"/>
<rect x="1462" y="239" width="7" height="12" fill="#E8333F"/>
<rect x="1475" y="250" width="1" height="37" fill="#E8333F"/>
<rect x="1472" y="252" width="7" height="20" fill="#E8333F"/>
<rect x="1485" y="263" width="1" height="14" fill="#30987E"/>
<rect x="1482" y="269" width="7" height="2" fill="#30987E"/>
<rect x="1495" y="251" width="1" height="33" fill="#30987E"/>
<rect x="1492" y="251" width="7" height="20" fill="#30987E"/>
<rect x="1505" y="242" width="1" height="12" fill="#30987E"/>
<rect x="1502" y="244" width="7" height="5" fill="#30987E"/>
<rect x="1515" y="239" width="1" height="12" fill="#E8333F"/>
<rect x="1512" y="243" width="7" height="6" fill="#E8333F"/>
<line x1="6" y1="248.5" x2="1896" y2="248.5" stroke="#E8333F" stroke-width="1" stroke-dasharray="1 2"/>
<text x="534.0" y="663.7" font-size="16.5" fill="#3D6EF7" textLength="43.0" lengthAdjust="spacingAndGlyphs" stroke="#3D6EF7" stroke-width="0.3">Nền 1</text>
<text x="885.8" y="551.0" font-size="16.5" fill="#3D6EF7" textLength="44.2" lengthAdjust="spacingAndGlyphs" stroke="#3D6EF7" stroke-width="0.3">Nền 2</text>
<text x="1206.6" y="393.1" font-size="16.5" fill="#3D6EF7" textLength="45.0" lengthAdjust="spacingAndGlyphs" stroke="#3D6EF7" stroke-width="0.3">Nền 3</text>
<text x="1679.4" y="250.5" font-size="16.5" fill="#3D6EF7" textLength="45.7" lengthAdjust="spacingAndGlyphs" stroke="#3D6EF7" stroke-width="0.3">Nền 4</text>
<text x="1307.6" y="180.9" font-size="16.5" fill="#3D6EF7" textLength="119.5" lengthAdjust="spacingAndGlyphs" stroke="#3D6EF7" stroke-width="0.3">Tích lũy 4 tuần</text>
<text x="1558.6" y="203.4" font-size="17" fill="#3D6EF7" textLength="37.0" lengthAdjust="spacingAndGlyphs" stroke="#3D6EF7" stroke-width="0.3">1700</text>
<text x="1558.6" y="300.6" font-size="17" fill="#3D6EF7" textLength="37.0" lengthAdjust="spacingAndGlyphs" stroke="#3D6EF7" stroke-width="0.3">1600</text>
<text x="1297.4" y="437.2" font-size="16.5" fill="#111" textLength="134.6" lengthAdjust="spacingAndGlyphs" stroke="#111" stroke-width="0.3">Đi biên 100 điểm</text>
<text x="975.0" y="894.1" font-size="16.5" fill="#3D6EF7" textLength="60.0" lengthAdjust="spacingAndGlyphs" stroke="#3D6EF7" stroke-width="0.3">KL tăng</text>
<text x="1397.4" y="926.3" font-size="16.5" fill="#3D6EF7" textLength="56.5" lengthAdjust="spacingAndGlyphs" stroke="#3D6EF7" stroke-width="0.3">Kiệt KL</text>
<text x="19.5" y="31.8" font-size="23.5" fill="#131722" textLength="228.5" lengthAdjust="spacingAndGlyphs" >Chỉ số VNINDEX · 1D</text>
<circle cx="285.5" cy="24.4" r="13.4" fill="#EEF0F3"/>
<rect x="277.7" y="21.2" width="15" height="6.4" rx="3.2" fill="#868A96"/>
<text x="322.6" y="30.4" font-size="20" fill="#131722" textLength="14.4" lengthAdjust="spacingAndGlyphs" >O</text>
<text x="341.2" y="30.4" font-size="20" fill="#E8333F" textLength="67.8" lengthAdjust="spacingAndGlyphs" >1666.68</text>
<text x="420.4" y="30.4" font-size="20" fill="#131722" textLength="11.7" lengthAdjust="spacingAndGlyphs" >H</text>
<text x="435.5" y="30.4" font-size="20" fill="#E8333F" textLength="68.2" lengthAdjust="spacingAndGlyphs" >1671.43</text>
<text x="514.8" y="30.4" font-size="20" fill="#131722" textLength="9.3" lengthAdjust="spacingAndGlyphs" >L</text>
<text x="527.9" y="30.4" font-size="20" fill="#E8333F" textLength="68.2" lengthAdjust="spacingAndGlyphs" >1657.94</text>
<text x="606.1" y="30.4" font-size="20" fill="#131722" textLength="13.3" lengthAdjust="spacingAndGlyphs" >C</text>
<text x="622.7" y="30.4" font-size="20" fill="#E8333F" textLength="68.0" lengthAdjust="spacingAndGlyphs" >1660.70</text>
<text x="701.8" y="30.4" font-size="20" fill="#E8333F" textLength="133.6" lengthAdjust="spacingAndGlyphs" >−5.39 (−0.32%)</text>
<rect x="20.5" y="45.5" width="46" height="30" rx="4" fill="#fff" stroke="#D5D8DF" stroke-width="1"/>
<path d="M29.3 57.8L35 63L40.7 57.8" fill="none" stroke="#131722" stroke-width="1.7"/>
<text x="49.2" y="66.8" font-size="20" fill="#131722" >6</text>
<text x="1993.0" y="49.6" font-size="16.5" fill="#131722" textLength="61.7" lengthAdjust="spacingAndGlyphs" >1900.00</text>
<text x="1993.0" y="135.3" font-size="16.5" fill="#131722" textLength="61.7" lengthAdjust="spacingAndGlyphs" >1800.00</text>
<text x="1993.0" y="221.0" font-size="16.5" fill="#131722" textLength="61.7" lengthAdjust="spacingAndGlyphs" >1700.00</text>
<text x="1993.0" y="306.8" font-size="16.5" fill="#131722" textLength="61.7" lengthAdjust="spacingAndGlyphs" >1600.00</text>
<text x="1993.0" y="392.5" font-size="16.5" fill="#131722" textLength="61.7" lengthAdjust="spacingAndGlyphs" >1500.00</text>
<text x="1993.0" y="478.2" font-size="16.5" fill="#131722" textLength="61.7" lengthAdjust="spacingAndGlyphs" >1400.00</text>
<text x="1993.0" y="563.9" font-size="16.5" fill="#131722" textLength="61.7" lengthAdjust="spacingAndGlyphs" >1300.00</text>
<text x="1993.0" y="649.6" font-size="16.5" fill="#131722" textLength="61.7" lengthAdjust="spacingAndGlyphs" >1200.00</text>
<text x="1993.0" y="735.4" font-size="16.5" fill="#131722" textLength="61.7" lengthAdjust="spacingAndGlyphs" >1100.00</text>
<text x="1992.8" y="811.4" font-size="16.5" fill="#131722" >2.8B</text>
<text x="1992.8" y="865.7" font-size="16.5" fill="#131722" >2.4B</text>
<text x="1992.8" y="920.1" font-size="16.5" fill="#131722" >2B</text>
<text x="1992.8" y="974.4" font-size="16.5" fill="#131722" >1.6B</text>
<text x="1992.8" y="1028.7" font-size="16.5" fill="#131722" >1.2B</text>
<text x="1992.8" y="1083.1" font-size="16.5" fill="#131722" >800M</text>
<text x="1992.8" y="1137.4" font-size="16.5" fill="#131722" >400M</text>
<path d="M1980 210.2H2062A2 2 0 0 1 2064 212.2V235H1980Z" fill="#000"/>
<text x="1993.0" y="229.2" font-size="16.5" fill="#fff" textLength="61.7" lengthAdjust="spacingAndGlyphs" stroke="#fff" stroke-width="0.6">1661.45</text>
<path d="M1980 235.5H2064V259.6A2 2 0 0 1 2062 261.6H1980Z" fill="#E8333F"/>
<text x="1993.0" y="254.8" font-size="16.5" fill="#fff" textLength="61.7" lengthAdjust="spacingAndGlyphs" stroke="#fff" stroke-width="0.6">1660.70</text>
<path d="M1897.4 235.5H1978.7V261.6H1897.4A2 2 0 0 1 1895.4 259.6V237.5A2 2 0 0 1 1897.4 235.5Z" fill="#E8333F"/>
<text x="1903.5" y="255.0" font-size="16.5" fill="#fff" textLength="68.5" lengthAdjust="spacingAndGlyphs" >VNINDEX</text>
<rect x="1980" y="1022.3" width="75" height="26" rx="2" fill="#3D96F3"/>
<text x="1992.8" y="1041.8" font-size="16.5" fill="#fff" textLength="53.6" lengthAdjust="spacingAndGlyphs" stroke="#fff" stroke-width="0.6">1.108B</text>
<rect x="1980" y="1050.3" width="96" height="26.4" rx="2" fill="#E9485C"/>
<text x="1992.8" y="1069.8" font-size="16.5" fill="#fff" textLength="74.7" lengthAdjust="spacingAndGlyphs" stroke="#fff" stroke-width="0.6">899.322M</text>
<text x="78.6" y="1214.6" font-size="17" fill="#131722" font-weight="bold" text-anchor="middle" >Tháng 3</text>
<text x="289.6" y="1214.6" font-size="17" fill="#131722" font-weight="bold" text-anchor="middle" >Tháng 4</text>
<text x="490.6" y="1214.6" font-size="17" fill="#131722" font-weight="bold" text-anchor="middle" >Tháng Năm</text>
<text x="691.5" y="1214.6" font-size="17" fill="#131722" font-weight="bold" text-anchor="middle" >Tháng 6</text>
<text x="902.5" y="1214.6" font-size="17" fill="#131722" font-weight="bold" text-anchor="middle" >Tháng 7</text>
<text x="1133.6" y="1214.6" font-size="17" fill="#131722" font-weight="bold" text-anchor="middle" >Tháng Tám</text>
<text x="1344.7" y="1214.6" font-size="17" fill="#131722" font-weight="bold" text-anchor="middle" >Tháng 9</text>
<text x="1545.6" y="1214.6" font-size="17" fill="#131722" font-weight="bold" text-anchor="middle" >Tháng 10</text>
<text x="1776.7" y="1214.6" font-size="17" fill="#131722" font-weight="bold" text-anchor="middle" >Tháng 11</text>
<clipPath id="tc"><rect x="1900" y="1190" width="80" height="38"/></clipPath>
<text x="1911.5" y="1214.6" font-size="17" fill="#131722" font-weight="bold" clip-path="url(#tc)">Tháng M</text>
<path d="M2021.6 1207.9L2026.9 1198.7H2037.7L2043 1207.9L2037.7 1217.1H2026.9Z" fill="none" stroke="#131722" stroke-width="1.6" stroke-linejoin="round"/><circle cx="2032.3" cy="1207.9" r="3.2" fill="none" stroke="#131722" stroke-width="1.6"/>
<path d="M17 1122H33.6Q48.4 1114 63.3 1122H277.3V1181.9H17Z" fill="#fff"/>
<defs>
<linearGradient id="bl0" gradientUnits="userSpaceOnUse" x1="48.2" y1="1131.7" x2="59.7" y2="1143.9"><stop offset="0.25" stop-color="#246BB8"/><stop offset="1" stop-color="#DCE9F6"/></linearGradient>
<linearGradient id="bl1" gradientUnits="userSpaceOnUse" x1="66.7" y1="1142.5" x2="61.8" y2="1158.8"><stop offset="0.25" stop-color="#246BB8"/><stop offset="1" stop-color="#CFE0F2"/></linearGradient>
<linearGradient id="bl2" gradientUnits="userSpaceOnUse" x1="66.7" y1="1164.1" x2="50.3" y2="1167.9"><stop offset="0.25" stop-color="#FAC805"/><stop offset="1" stop-color="#FFF3C4"/></linearGradient>
<linearGradient id="bl3" gradientUnits="userSpaceOnUse" x1="48.2" y1="1174.9" x2="36.0" y2="1163.1"><stop offset="0.25" stop-color="#FAC805"/><stop offset="1" stop-color="#FFF0B8"/></linearGradient>
<linearGradient id="bl4" gradientUnits="userSpaceOnUse" x1="29.4" y1="1164.1" x2="34.5" y2="1147.8"><stop offset="0.25" stop-color="#A2C92E"/><stop offset="1" stop-color="#EEF5D0"/></linearGradient>
<linearGradient id="bl5" gradientUnits="userSpaceOnUse" x1="29.4" y1="1142.5" x2="46.0" y2="1138.7"><stop offset="0.25" stop-color="#A2C92E"/><stop offset="1" stop-color="#E6F0BE"/></linearGradient>
</defs>
<path d="M35.7 1131.7Q48.2 1128.4 60.6 1131.7L59.7 1143.9Z" fill="url(#bl0)"/>
<path d="M60.6 1131.7Q69.6 1140.8 72.8 1153.3L61.8 1158.8Z" fill="url(#bl1)"/>
<path d="M72.8 1153.3Q69.6 1165.8 60.6 1174.9L50.3 1167.9Z" fill="url(#bl2)"/>
<path d="M60.6 1174.9Q48.2 1178.3 35.7 1174.9L36.0 1163.1Z" fill="url(#bl3)"/>
<path d="M35.7 1174.9Q26.6 1165.8 23.2 1153.3L34.5 1147.8Z" fill="url(#bl4)"/>
<path d="M23.2 1153.3Q26.6 1140.8 35.7 1131.7L46.0 1138.7Z" fill="url(#bl5)"/>
<polygon points="38.0,1149.1 39.3,1148.8 39.3,1160.3 38.0,1160.6" fill="#A2CB3C"/>
<polygon points="56.5,1148.8 57.9,1149.1 57.9,1160.6 56.5,1160.3" fill="#A2CB3C"/>
<polygon points="40.2,1146.9 43.6,1147.2 47.9,1150.6 47.9,1164.0 45.4,1161.8 40.2,1161.2" fill="#A2CB3C"/>
<polygon points="55.6,1146.9 52.2,1147.2 47.9,1150.6 47.9,1164.0 50.4,1161.8 55.6,1161.2" fill="#A2CB3C"/>
<circle cx="47.9" cy="1155.8" r="3.6" fill="none" stroke="#fff" stroke-width="1.1" stroke-dasharray="2.2 1.2"/>
<circle cx="47.9" cy="1155.8" r="1.3" fill="none" stroke="#fff" stroke-width=".9"/>
<text x="80.5" y="1161.9" font-size="18" fill="#1B5DAE" font-weight="bold" textLength="88.7" lengthAdjust="spacingAndGlyphs" >TINH HOA</text>
<text x="175.6" y="1161.9" font-size="18" fill="#E8AB0C" font-weight="bold" textLength="92.7" lengthAdjust="spacingAndGlyphs" >TÀI CHÍNH</text>
<path d="M0 0H10A4 4 0 0 0 6 4V1233H0Z" fill="#E1E4EE"/>
<rect x="-3" y="1168" width="5.7" height="36" rx="2.7" fill="#fff"/>
</svg>
</body></html>
